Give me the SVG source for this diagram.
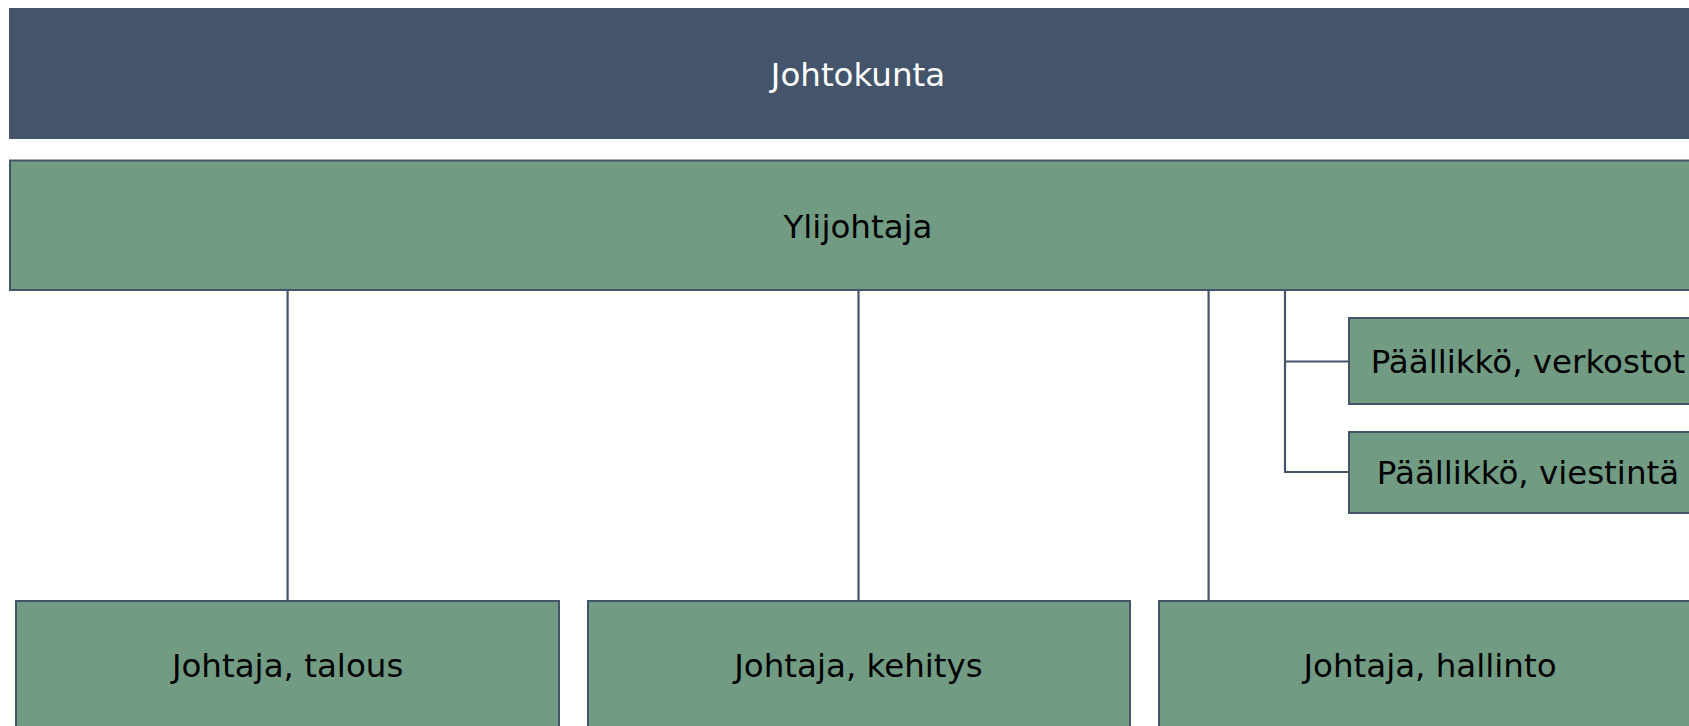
<svg xmlns="http://www.w3.org/2000/svg" width="1689" height="726" viewBox="0 0 1689 726">
<style>
.box{fill:#729B84;stroke:#44546A;stroke-width:2}
.top{fill:#44546A;stroke:#44546A;stroke-width:2}
.lbl{font-family:"DejaVu Sans",Verdana,sans-serif;font-size:32.5px;text-anchor:middle;fill:#000}
.wl{fill:#fff}
.cn{stroke:#44546A;stroke-width:2.2;fill:none}
</style>
<rect width="1689" height="726" fill="#fff"/>
<g id="connectors">
<line class="cn" x1="287.6" y1="290" x2="287.6" y2="601"/>
<line class="cn" x1="858.5" y1="290" x2="858.5" y2="601"/>
<line class="cn" x1="1208.6" y1="290" x2="1208.6" y2="601"/>
<polyline class="cn" points="1285,290 1285,472 1349,472"/>
<line class="cn" x1="1285" y1="361.5" x2="1349" y2="361.5"/>
</g>
<g id="johtokunta">
<rect class="top" x="10" y="9" width="1700" height="129"/>
<text class="lbl wl" x="858" y="85.5">Johtokunta</text>
</g>
<g id="ylijohtaja">
<rect class="box" x="10" y="160.5" width="1700" height="129.5"/>
<text class="lbl" x="858" y="237.5">Ylijohtaja</text>
</g>
<g id="verkostot">
<rect class="box" x="1349" y="318" width="360" height="86"/>
<text class="lbl" x="1528" y="373">Päällikkö, verkostot</text>
</g>
<g id="viestinta">
<rect class="box" x="1349" y="432" width="360" height="81"/>
<text class="lbl" x="1528" y="484">Päällikkö, viestintä</text>
</g>
<g id="talous">
<rect class="box" x="16" y="601" width="543" height="140"/>
<text class="lbl" x="287.6" y="677">Johtaja, talous</text>
</g>
<g id="kehitys">
<rect class="box" x="588" y="601" width="542" height="140"/>
<text class="lbl" x="858.5" y="677">Johtaja, kehitys</text>
</g>
<g id="hallinto">
<rect class="box" x="1159" y="601" width="543" height="140"/>
<text class="lbl" x="1430" y="677">Johtaja, hallinto</text>
</g>
</svg>
